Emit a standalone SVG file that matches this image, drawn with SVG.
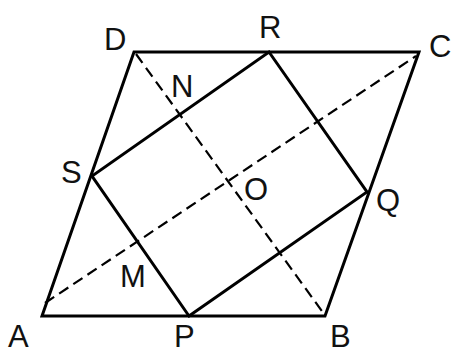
<svg xmlns="http://www.w3.org/2000/svg" width="457" height="354" viewBox="0 0 457 354">
<style>
.s{stroke:#000;stroke-width:3;fill:none;stroke-linejoin:miter;stroke-linecap:round}
.d{stroke:#000;stroke-width:2.2;fill:none;stroke-dasharray:11 6}
text{font-family:"Liberation Sans",Arial,sans-serif;font-size:31px;fill:#111}
</style>
<rect width="457" height="354" fill="#fff"/>
<g id="connectors">
<line class="d" x1="45" y1="303" x2="416" y2="56"/>
<line class="d" x1="136" y1="54" x2="324" y2="314"/>
</g>
<g id="parallelogram">
<polygon class="s" points="42,316 325,316 419,52 134,52"/>
</g>
<g id="square">
<polygon class="s" points="189,316 367,192 269,52 92,176"/>
</g>
<g id="labels">
<text id="A" x="8" y="347">A</text>
<text id="B" x="330" y="347">B</text>
<text id="C" x="429" y="57">C</text>
<text id="D" x="104" y="50">D</text>
<text id="R" x="259" y="38">R</text>
<text id="N" x="171" y="97">N</text>
<text id="S" x="61" y="183">S</text>
<text id="O" x="244" y="200">O</text>
<text id="Q" x="376" y="211">Q</text>
<text id="M" x="120" y="287">M</text>
<text id="P" x="174" y="347">P</text>
</g>
</svg>
